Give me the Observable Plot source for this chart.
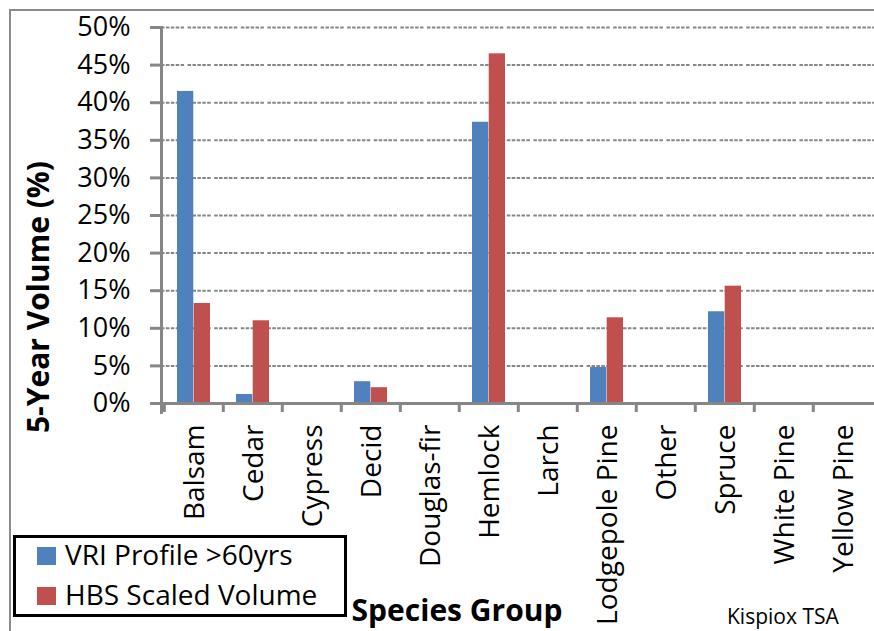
<!DOCTYPE html>
<html>
<head>
<meta charset="utf-8">
<script src="https://cdn.jsdelivr.net/npm/d3@7"></script>
<script src="https://cdn.jsdelivr.net/npm/@observablehq/plot@0.6"></script>
<style>
  html, body { margin: 0; padding: 0; background: #fff; }
  #wrap { position: relative; width: 874px; height: 631px; overflow: hidden; background: #fff; font-family: "Open Sans", sans-serif; color: #000; }
  #border { position: absolute; left: 9px; top: 9px; width: 1000px; height: 1000px; border: 2px solid #8a8a8a; }
  #chart { position: absolute; left: 0; top: 0; }
  #ytitle { position: absolute; left: 38px; top: 297px; transform: translate(-50%, -50%) rotate(-90deg); white-space: nowrap; font-weight: bold; font-size: 30px; line-height: 30px; }
  #xtitle { position: absolute; left: 457px; top: 593px; transform: translateX(-50%); white-space: nowrap; font-weight: bold; font-size: 30px; line-height: 34px; }
  #caption { position: absolute; left: 727px; top: 604px; white-space: nowrap; font-size: 21px; line-height: 24px; }
  #legend { position: absolute; left: 13px; top: 535px; width: 328px; height: 76px; border: 3px solid #000; background: #fff; }
  .sw { position: absolute; left: 21px; width: 19px; height: 18px; }
  .lt { position: absolute; left: 49px; white-space: nowrap; font-size: 28px; line-height: 28px; }
</style>
</head>
<body>
<div id="wrap">
  <div id="border"></div>
  <div id="chart"></div>
  <div id="ytitle"></div>
  <div id="xtitle"></div>
  <div id="caption"></div>
  <div id="legend"></div>
</div>
<script>
// ---- data ----
const categories = ["Balsam", "Cedar", "Cypress", "Decid", "Douglas-fir", "Hemlock", "Larch", "Lodgepole Pine", "Other", "Spruce", "White Pine", "Yellow Pine"];
const vriProfile = [41.5, 1.2, 0, 2.9, 0, 37.4, 0, 4.8, 0, 12.2, 0, 0];
const hbsScaled  = [13.3, 11.0, 0, 2.1, 0, 46.5, 0, 11.4, 0, 15.6, 0, 0];
const seriesNames = ["VRI Profile >60yrs", "HBS Scaled Volume"];
const seriesColors = ["#4F81BD", "#C0504D"];
const yTicks = [0, 5, 10, 15, 20, 25, 30, 35, 40, 45, 50];
const yTitle = "5-Year Volume (%)";
const xTitle = "Species Group";
const caption = "Kispiox TSA";

const table = categories.map((c, i) => ({species: c, vri: vriProfile[i], hbs: hbsScaled[i]}));

const W = 874, H = 631, ML = 161, MR = 0, MT = 27, MB = 228;
const bw = (W - ML - MR) / categories.length;
const barW = 16.7, outer = 13;
const gridColor = "#868686";

const chart = Plot.plot({
  width: W, height: H,
  marginLeft: ML, marginRight: MR, marginTop: MT, marginBottom: MB,
  style: {fontFamily: "'Open Sans', sans-serif", color: "#000", background: "transparent", overflow: "visible"},
  x: {domain: categories, padding: 0, label: null},
  y: {domain: [0, 50], label: null},
  marks: [
    Plot.gridY(yTicks.filter(t => t > 0), {stroke: gridColor, strokeOpacity: 1, strokeWidth: 2, strokeDasharray: "3.5,1.4,3.5,1.4,3.5,1.4,3.5,1.4,3.5,3.5"}),
    Plot.barY(table, {x: "species", y: "vri", fill: seriesColors[0], insetLeft: outer, insetRight: bw - outer - barW}),
    Plot.barY(table, {x: "species", y: "hbs", fill: seriesColors[1], insetLeft: bw - outer - barW, insetRight: outer}),
    Plot.frame({anchor: "left", stroke: gridColor, strokeWidth: 3, insetBottom: -9}),
    Plot.ruleY([0], {stroke: gridColor, strokeWidth: 3}),
    Plot.axisY({ticks: yTicks, tickSize: 11, tickPadding: 20, tickFormat: d => d + "%", fontSize: 27, stroke: gridColor, strokeWidth: 3, strokeOpacity: 1, label: null}),
    Plot.axisX({tickSize: 9, tickFormat: () => "", dx: -bw / 2, stroke: gridColor, strokeWidth: 3, strokeOpacity: 1, label: null}),
    Plot.axisX({tickSize: 0, tickPadding: 21, rotate: -90, textAnchor: "end", fontSize: 28, dx: -10, label: null})
  ]
});
document.getElementById("chart").appendChild(chart);

document.getElementById("ytitle").textContent = yTitle;
document.getElementById("xtitle").textContent = xTitle;
document.getElementById("caption").textContent = caption;

const legend = document.getElementById("legend");
seriesNames.forEach((name, i) => {
  const sw = document.createElement("div");
  sw.className = "sw";
  sw.style.top = (9 + i * 40) + "px";
  sw.style.background = seriesColors[i];
  legend.appendChild(sw);
  const t = document.createElement("div");
  t.className = "lt";
  t.style.top = (2 + i * 40) + "px";
  t.textContent = name;
  legend.appendChild(t);
});
</script>
</body>
</html>
